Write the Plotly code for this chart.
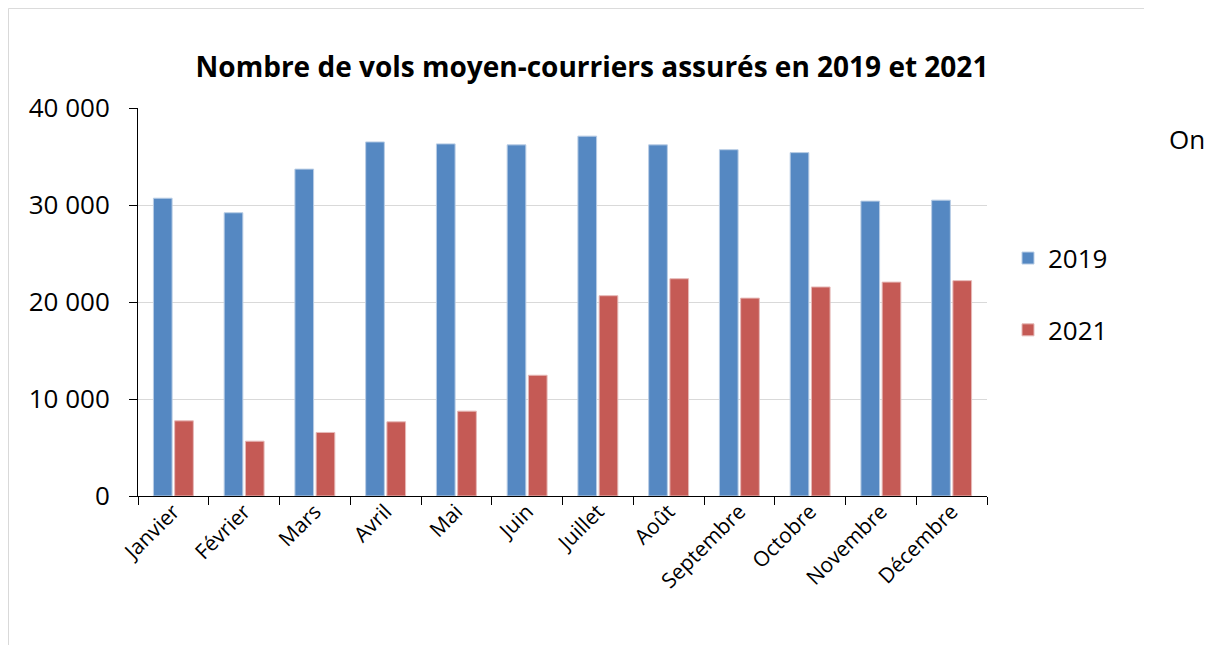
import plotly.graph_objects as go

months = ["Janvier", "Février", "Mars", "Avril", "Mai", "Juin", "Juillet",
          "Août", "Septembre", "Octobre", "Novembre", "Décembre"]
vols_2019 = [30700, 29200, 33700, 36500, 36300, 36200, 37100, 36200, 35700, 35400, 30400, 30500]
vols_2021 = [7750, 5650, 6550, 7650, 8750, 12450, 20650, 22400, 20400, 21550, 22050, 22200]
y_ticks = [0, 10000, 20000, 30000, 40000]

FONT = "Open Sans"

# the page body adds an 8px margin: work in screen pixels and shift
OFF = 8
FW, FH = 1213 - OFF, 645 - OFF

# plot-area geometry in screen pixels
L, R, T, B = 138, 987, 108, 495.7
W, H = R - L, B - T

def px(x):
    return (x - L) / W

def py(y):
    return (B - y) / H

fig = go.Figure()
fig.add_trace(go.Bar(
    x=months, y=vols_2019, name="2019", legendgroup="a",
    marker=dict(color="#5588C2", line=dict(color="#B9CDE5", width=1)),
))
fig.add_trace(go.Bar(
    x=months, y=vols_2021, name="2021", legendgroup="b",
    marker=dict(color="#C55A55", line=dict(color="#E6B9B8", width=1)),
))

fig.update_layout(
    width=FW, height=FH,
    margin=dict(l=L - OFF, r=1213 - R, t=T - OFF, b=645 - B),
    paper_bgcolor="white", plot_bgcolor="white",
    separators=", ",
    barmode="group", bargap=0.40, bargroupgap=0.12,
    font=dict(family=FONT, color="#000000"),
    title=dict(
        text="<b>Nombre de vols moyen-courriers assurés en 2019 et 2021</b>",
        x=px(592), xref="paper", xanchor="center",
        y=1 - (67 - OFF) / FH, yref="container", yanchor="middle",
        font=dict(family=FONT, size=28, color="#000000"),
    ),
    legend=dict(
        x=px(1008), y=py(294), xanchor="left", yanchor="middle",
        font=dict(family=FONT, size=26, color="#000000"),
        tracegroupgap=35, itemwidth=30, bgcolor="rgba(0,0,0,0)",
    ),
    showlegend=True,
)

fig.update_xaxes(
    type="category", tickson="boundaries",
    showline=True, linecolor="#000000", linewidth=1,
    ticks="outside", ticklen=8, tickcolor="#000000",
    tickangle=-45, tickfont=dict(family=FONT, size=21, color="#000000"),
    ticklabelstandoff=-6,
    showgrid=False,
)
fig.update_yaxes(
    range=[0, 40000], tickvals=y_ticks, tickformat=",d",
    showline=True, linecolor="#000000", linewidth=1,
    ticks="outside", ticklen=8, tickcolor="#000000",
    tickfont=dict(family=FONT, size=26, color="#000000"),
    ticklabelstandoff=14,
    showgrid=True, gridcolor="#D9D9D9", gridwidth=1,
    zeroline=False,
)

# chart frame (top and left edges)
fig.add_shape(type="line", xref="paper", yref="paper",
              x0=px(8.5), x1=px(1144), y0=py(8.5), y1=py(8.5),
              line=dict(color="#D9D9D9", width=1))
fig.add_shape(type="line", xref="paper", yref="paper",
              x0=px(8.5), x1=px(8.5), y0=py(8.5), y1=py(645),
              line=dict(color="#D9D9D9", width=1))

fig.add_annotation(text="On", xref="paper", yref="paper",
                   x=px(1167), y=py(139), xanchor="left", yanchor="middle",
                   showarrow=False, font=dict(family=FONT, size=26, color="#000000"))

fig.write_html("out.html")
